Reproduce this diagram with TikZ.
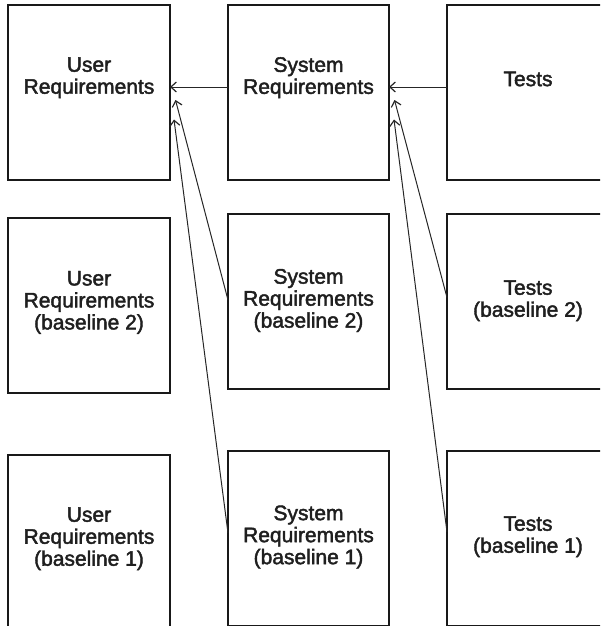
\documentclass[tikz,border=0pt]{standalone}
\usepackage{fontspec}
\setmainfont{Liberation Sans}
\newfontfamily\medfont{Liberation Sans}[FakeBold=2]
\usetikzlibrary{arrows.meta}
\begin{document}
\begin{tikzpicture}[x=1pt,y=-1pt,
  box/.style={draw=black!90,line width=1.3pt,rectangle,inner sep=0pt,outer sep=0pt,minimum height=175pt},
  wbox/.style={box,minimum width=162pt},
  nbox/.style={box,minimum width=161pt},
  txt/.style={inner sep=0pt,outer sep=0pt,align=center,text=black!88,font=\medfont\fontsize{21}{22}\selectfont},
  conn/.style={draw=black!85,line width=1pt,-{Straight Barb[length=5.5pt,width=10pt,line width=1.2pt]}}]
\useasboundingbox (0,0) rectangle (600,626);
\clip (0,0) rectangle (600,626);
% boxes
\node[wbox] (ur)  at (89,92.5) {};
\node[nbox] (sr)  at (308.5,92.5) {};
\node[nbox] (ts)  at (527.5,92.5) {};
\node[wbox] (ub2) at (89,305.5) {};
\node[nbox] (sb2) at (308.5,301.5) {};
\node[nbox] (tb2) at (527.5,301.5) {};
\node[wbox] (ub1) at (89,542.5) {};
\node[nbox] (sb1) at (308.5,538.5) {};
\node[nbox] (tb1) at (527.5,538.5) {};
% texts
\node[txt] (urt)  at (89,77.7) {User\\Requirements};
\node[txt] (srt)  at (308.5,77.7) {System\\Requirements};
\node[txt] (tst)  at (528,79) {Tests};
\node[txt] (ub2t) at (89,302.4) {User\\Requirements\\(baseline 2)};
\node[txt] (sb2t) at (308.5,300.5) {System\\Requirements\\(baseline 2)};
\node[txt] (tb2t) at (528,300.7) {Tests\\(baseline 2)};
\node[txt] (ub1t) at (89,538.7) {User\\Requirements\\(baseline 1)};
\node[txt] (sb1t) at (308.5,537) {System\\Requirements\\(baseline 1)};
\node[txt] (tb1t) at (528,536.7) {Tests\\(baseline 1)};
% connectors
\draw[conn] ([yshift=5.5pt]sr.west) -- ([yshift=5.5pt]ur.east);
\draw[conn] ([yshift=5.5pt]ts.west) -- ([yshift=5.5pt]sr.east);
\draw[conn] ([yshift=1.5pt]sb2.west) -- ([xshift=5.5pt,yshift=-7.5pt]ur.east);
\draw[conn] ([yshift=5.5pt]sb1.west) -- ([xshift=4pt,yshift=-27pt]ur.east);
\draw[conn] ([yshift=4pt]tb2.west) -- ([xshift=5.5pt,yshift=-7.5pt]sr.east);
\draw[conn] ([yshift=6.5pt]tb1.west) -- ([xshift=5pt,yshift=-27pt]sr.east);
\end{tikzpicture}
\end{document}
